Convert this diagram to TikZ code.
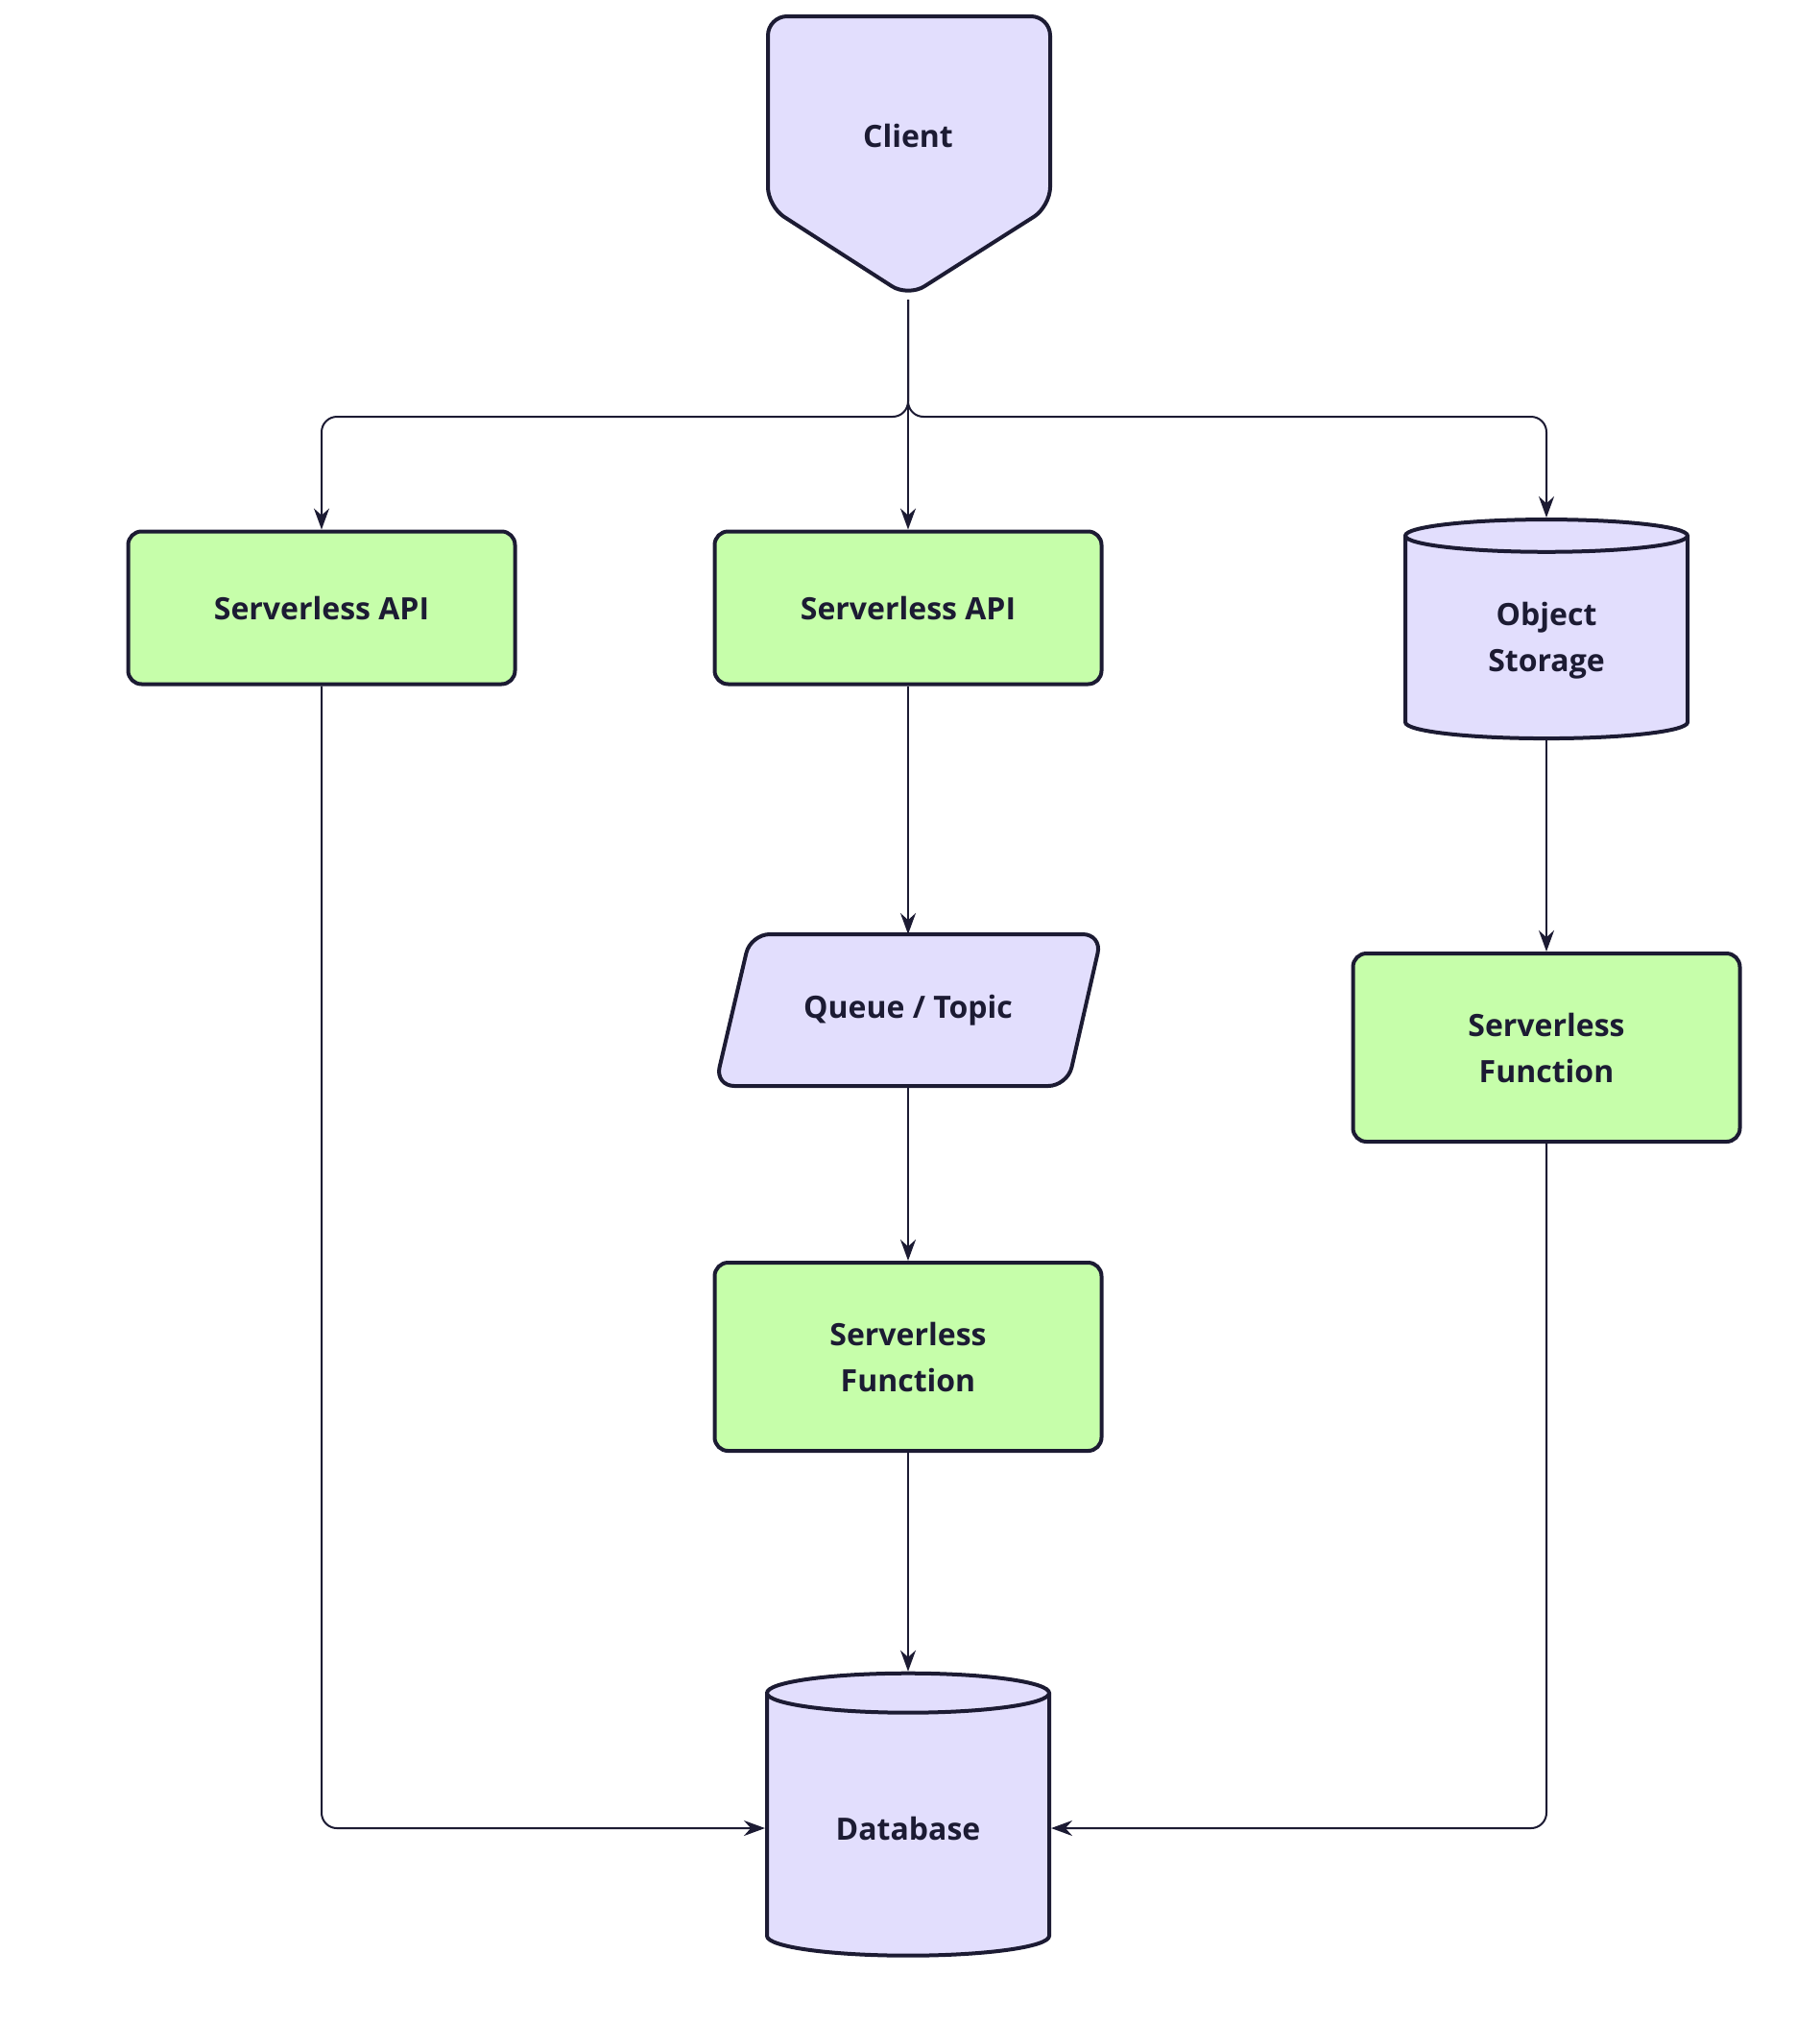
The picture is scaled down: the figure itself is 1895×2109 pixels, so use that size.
\documentclass[tikz,border=0pt]{standalone}
\usepackage{fontspec}
\setmainfont{Open Sans}
\usetikzlibrary{shapes.geometric,arrows.meta,positioning}
\definecolor{ink}{HTML}{1C1B33}
\definecolor{lav}{HTML}{E2DEFD}
\definecolor{lime}{HTML}{C6FEAA}
\tikzset{
  box/.style={draw=ink,line width=2pt,rounded corners=7pt,fill=lime,
    minimum width=201.5pt,minimum height=79.5pt,align=center,
    font=\fontsize{16}{24}\selectfont\bfseries,text=ink},
  tall/.style={box,minimum height=98pt},
  db/.style={draw=ink,line width=2pt,fill=lav,cylinder,shape border rotate=90,
    aspect=0.25,minimum width=147pt,align=center,
    font=\fontsize{16}{24}\selectfont\bfseries,text=ink},
  lbl/.style={align=center,font=\fontsize{16}{24}\selectfont\bfseries,text=ink},
  flow/.style={draw=ink,line width=1pt,-{Stealth[length=11pt,width=8pt]},rounded corners=8pt}
}
\begin{document}
\begin{tikzpicture}[x=0.5pt,y=-0.5pt]
\useasboundingbox (0,0) rectangle (1895,2109);
% client
\draw[draw=ink,line width=2pt,fill=lav,rounded corners=10pt]
  (800,17)--(1094,17)--(1094,215)--(946,309)--(800,215)--cycle;
\node[lbl] (client) at (946,141) {Client};
\coordinate (tip) at (946,312);
% nodes
\node[box] (api1) at (335,633) {Serverless API};
\node[box] (api2) at (946,633) {Serverless API};
\node[db,minimum height=114pt] (store) at (1611,667) {Object\\Storage};
\draw[draw=ink,line width=2pt,fill=lav,rounded corners=10pt]
  (782,973)--(1148,973)--(1112,1131)--(745,1131)--cycle;
\node[lbl] (queue) at (946,1052) {Queue / Topic};
\coordinate (qtop) at (946,973);
\coordinate (qbot) at (946,1131);
\node[tall] (fn2) at (1611,1091) {Serverless\\Function};
\node[tall] (fn1) at (946,1413) {Serverless\\Function};
\node[db,minimum height=147pt] (db) at (946,1904) {Database};
% connectors
\draw[flow] (tip) |- (335,434) -- (api1.north);
\draw[flow] (tip) |- (1611,434) -- (store.north);
\draw[flow] (tip) -- (api2.north);
\draw[flow] (api2.south) -- (qtop);
\draw[flow] (qbot) -- (fn1.north);
\draw[flow] (store.south) -- (fn2.north);
\draw[flow] (fn1.south) -- (db.north);
\draw[flow] (api1.south) |- (db.west);
\draw[flow] (fn2.south) |- (db.east);
\end{tikzpicture}
\end{document}
